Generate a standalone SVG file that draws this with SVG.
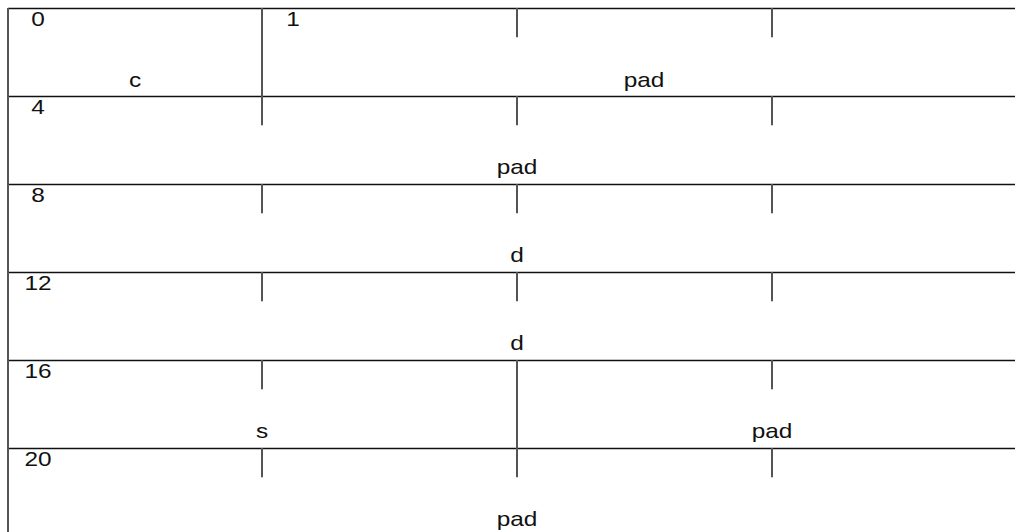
<svg xmlns="http://www.w3.org/2000/svg" width="1015" height="532" viewBox="0 0 1015 532">
<style>
.h{stroke:#111;stroke-width:1.6;fill:none}
.v{stroke:#555;stroke-width:2;fill:none}
text{font-family:"Liberation Sans",Arial,sans-serif;font-size:20px;fill:#111;text-anchor:middle}
</style>
<rect width="1015" height="532" fill="#fff"/>
<g id="connectors">
<path class="h" d="M8 8.5H1015M8 96.5H1015M8 184.5H1015M8 272.5H1015M8 360.5H1015M8 448.5H1015"/>
<path class="v" d="M8 8V532"/>
<path class="v" d="M262 8V96"/>
<path class="v" d="M517 360V448"/>
<path class="v" d="M517 8v29.3M772 8v29.3"/>
<path class="v" d="M262 96v29.3M517 96v29.3M772 96v29.3"/>
<path class="v" d="M262 184v29.3M517 184v29.3M772 184v29.3"/>
<path class="v" d="M262 272v29.3M517 272v29.3M772 272v29.3"/>
<path class="v" d="M262 360v29.3M772 360v29.3"/>
<path class="v" d="M262 448v29.3M517 448v29.3M772 448v29.3"/>
</g>
<g id="row0">
<text transform="matrix(1.22 0 0 1 38 26)">0</text>
<text transform="matrix(1.22 0 0 1 293 26)">1</text>
<g id="field-c"><text transform="matrix(1.22 0 0 1 135 87)">c</text></g>
<g id="field-pad0"><text transform="matrix(1.22 0 0 1 644 87)">pad</text></g>
</g>
<g id="row4">
<text transform="matrix(1.22 0 0 1 38 114)">4</text>
<g id="field-pad1"><text transform="matrix(1.22 0 0 1 517 174)">pad</text></g>
</g>
<g id="row8">
<text transform="matrix(1.22 0 0 1 38 202)">8</text>
<g id="field-d0"><text transform="matrix(1.22 0 0 1 517 262)">d</text></g>
</g>
<g id="row12">
<text transform="matrix(1.22 0 0 1 38 290)">12</text>
<g id="field-d1"><text transform="matrix(1.22 0 0 1 517 350)">d</text></g>
</g>
<g id="row16">
<text transform="matrix(1.22 0 0 1 38 378)">16</text>
<g id="field-s"><text transform="matrix(1.22 0 0 1 262 438)">s</text></g>
<g id="field-pad2"><text transform="matrix(1.22 0 0 1 772 438)">pad</text></g>
</g>
<g id="row20">
<text transform="matrix(1.22 0 0 1 38 466)">20</text>
<g id="field-pad3"><text transform="matrix(1.22 0 0 1 517 526)">pad</text></g>
</g>
</svg>
